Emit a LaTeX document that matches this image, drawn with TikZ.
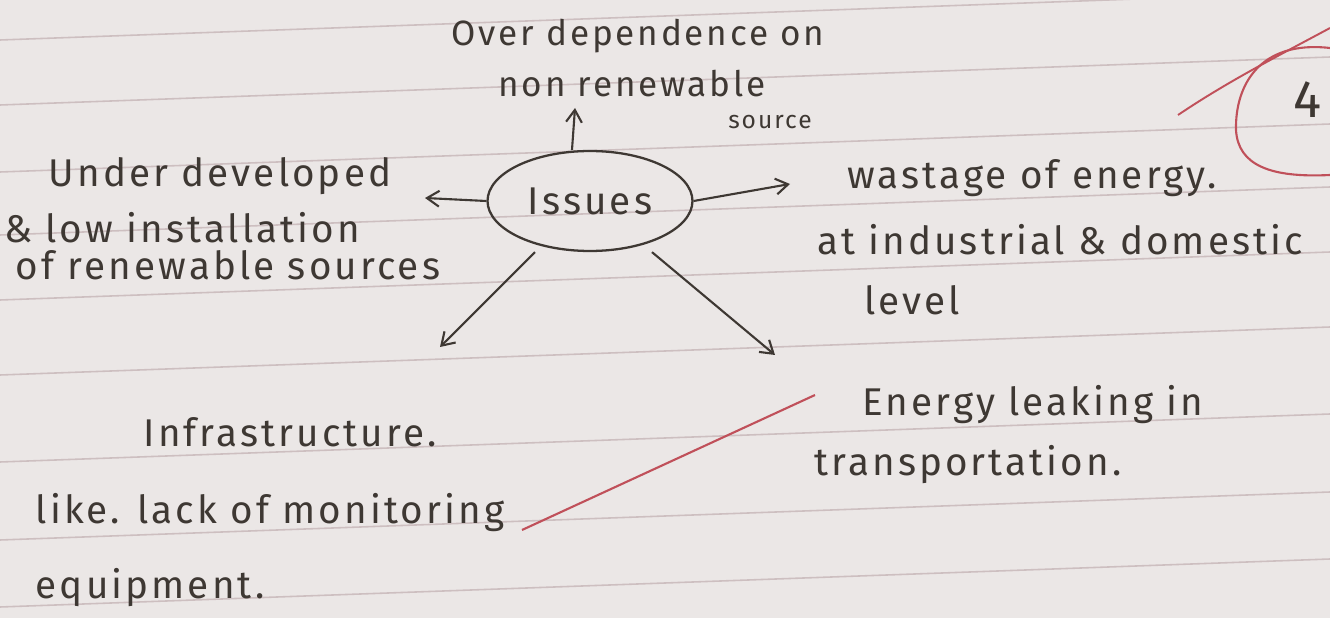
\documentclass[tikz,border=0pt]{standalone}
\usepackage{fontspec}
\setmainfont{Fira Sans}
\newfontfamily\hand[LetterSpace=8]{Fira Sans}
\usetikzlibrary{arrows.meta,shapes.geometric}
\definecolor{paper}{HTML}{EBE7E6}
\definecolor{rule}{HTML}{CDBFC0}
\definecolor{ink}{HTML}{3E3833}
\definecolor{redink}{HTML}{C0505A}
\tikzset{
  hw/.style={font=\hand\fontsize{22}{26}\selectfont, text=ink, inner sep=0pt},
  hwm/.style={font=\hand\fontsize{20}{24}\selectfont, text=ink, inner sep=0pt},
  hws/.style={font=\hand\fontsize{14}{17}\selectfont, text=ink, inner sep=0pt},
  conn/.style={draw=ink, line width=1.2pt, -{Straight Barb[length=7pt,width=9pt]}},
  ruleline/.style={draw=rule, line width=0.9pt},
  issue/.style={ellipse, draw=ink, line width=1.3pt, minimum width=4.1cm, minimum height=2.0cm, inner sep=0pt, font=\hand\fontsize{22}{26}\selectfont, text=ink}
}
\begin{document}
\begin{tikzpicture}[x=0.02cm,y=-0.02cm]
\path[fill=paper] (0,0) rectangle (1330,618);
\useasboundingbox (0,0) rectangle (1330,618);
% ruled lines
\foreach \yy in {40,105,172,235,300,375,462,540,607}
  \draw[ruleline] (0,\yy) -- (1330,\yy-48);
% central node
\node[issue] (iss) at (590,201) {Issues};
% top
\node[hwm] (t1) at (638,36) {Over dependence on};
\node[hwm] (t2) at (632,84) {non renewable};
\node[hws] (t3) at (770,122) {source};
\coordinate (ut) at (575,108);
\draw[conn] (iss.north) ++(-18,0) coordinate (itop) -- (ut);
% left
\node[hw] (l1) at (220,176) {Under developed};
\node[hw] (l2) at (182,228) {\& low installation};
\node[hw] (l3) at (228,265) {of renewable sources};
\coordinate (ul) at (425,198);
\draw[conn] (iss.west) -- (ul);
% right
\node[hw] (r1) at (1032,178) {wastage of energy.};
\node[hw] (r2) at (1060,240) {at industrial \& domestic};
\node[hw] (r3) at (912,300) {level};
\coordinate (ur) at (790,184);
\draw[conn] (iss.east) -- (ur);
% bottom left
\node[hw] (b1) at (290,432) {Infrastructure.};
\node[hw] (b2) at (270,513) {like. lack of monitoring};
\node[hw] (b3) at (150,588) {equipment.};
\coordinate (ubl) at (440,347);
\draw[conn] (iss.south) ++(-55,0) coordinate (isl) -- (ubl);
% bottom right
\node[hw] (e1) at (1033,405) {Energy leaking in};
\node[hw] (e2) at (968,465) {transportation.};
\coordinate (ubr) at (775,355);
\draw[conn] (iss.south) ++(62,0) coordinate (isr) -- (ubr);
% red annotations
\coordinate (ra) at (522,530);
\coordinate (rb) at (815,395);
\draw[redink, line width=1.2pt] (ra) -- (rb);
\node[font=\hand\fontsize{30}{34}\selectfont, text=ink] (four) at (1308,100) {4};
\draw[redink, line width=1.2pt] (1330,48) .. controls (1260,40) and (1235,85) .. (1236,130) .. controls (1238,165) and (1270,178) .. (1330,175);
\draw[redink, line width=1.1pt] (1178,115) .. controls (1230,80) and (1280,55) .. (1330,28);
\end{tikzpicture}
\end{document}
